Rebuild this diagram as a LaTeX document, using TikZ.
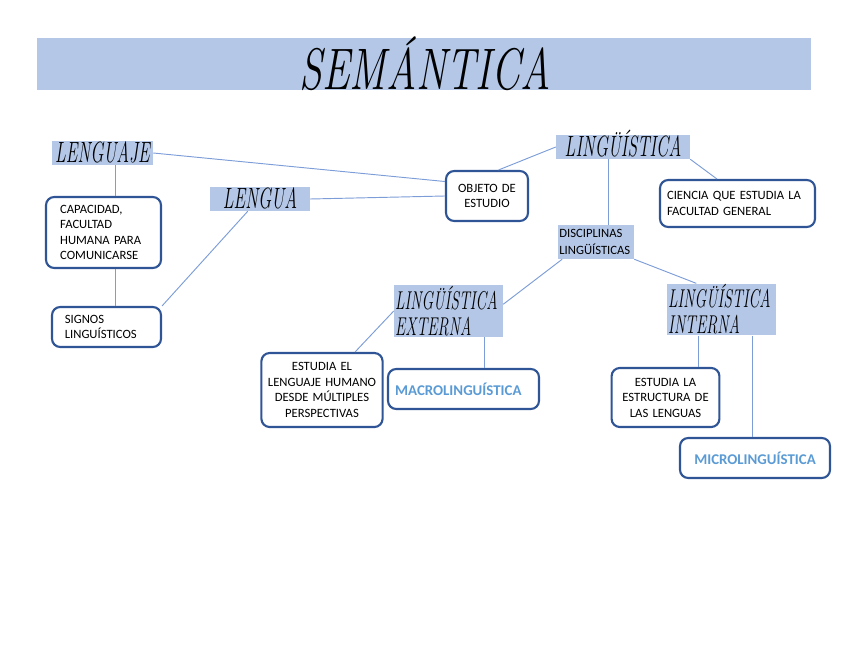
\documentclass[tikz,border=0pt]{standalone}
\usepackage{fontspec}
\setsansfont{Carlito}
\usepackage{tikz}
\usetikzlibrary{positioning}
\definecolor{bandazul}{HTML}{B4C7E7}
\definecolor{bordeazul}{HTML}{2F5597}
\definecolor{lineaazul}{HTML}{7C9DD8}
\definecolor{textoazul}{HTML}{5B9BD5}
\newcommand{\guion}[1]{\scalebox{0.6}[1]{#1}}
\tikzset{
	banda/.style={fill=bandazul, inner sep=0pt, align=left, text height=16pt, text depth=0pt,
		font=\rmfamily\itshape\fontsize{25}{24}\selectfont},
	banda2/.style={fill=bandazul, inner sep=1pt, align=left,
		font=\rmfamily\itshape\fontsize{22}{22}\selectfont},
	caja/.style={draw=bordeazul, line width=1.8pt, rounded corners=7pt, fill=white,
		font=\sffamily\fontsize{10.8}{13.2}\selectfont},
	enlace/.style={draw=lineaazul, line width=0.8pt},
	macro/.style={caja, text=textoazul, font=\sffamily\bfseries\fontsize{12.7}{14}\selectfont}
}

\begin{document}
\begin{tikzpicture}[x=0.03cm, y=-0.03cm]
	\useasboundingbox (0,0) rectangle (848,655);
	% titulo
	\node[fill=bandazul, minimum width=23.22cm, minimum height=1.56cm, inner sep=0pt] (titulo) at (424,64) {};
	\node[inner sep=0pt] (tituloTexto) at (425,64)
		{\rmfamily\itshape\fontsize{50}{50}\selectfont\scalebox{0.71}[1]{SEMÁNTICA}};
	% bandas
	\node[banda, minimum width=3.03cm, minimum height=0.72cm] (lenguaje) at (102.5,153) {\guion{LENGUAJE}};
	\node[banda, minimum width=3.0cm, minimum height=0.72cm] (lengua) at (260,199) {\guion{LENGUA}};
	\node[banda, minimum width=4.02cm, minimum height=0.72cm] (linguistica) at (623,147) {\guion{LINGÜÍSTICA}};
	\node[fill=bandazul, minimum width=2.28cm, minimum height=1.02cm, text width=2.2cm, align=left,
		inner sep=1pt, font=\sffamily\fontsize{10.8}{14.5}\selectfont] (disciplinas) at (596,242)
		{DISCIPLINAS LINGÜÍSTICAS};
	\node[banda2, minimum width=3.27cm, minimum height=1.44cm, text width=3.2cm] (externa) at (448.5,311)
		{\guion{LINGÜÍSTICA}\\\guion{EXTERNA}};
	\node[banda2, minimum width=3.27cm, minimum height=1.47cm, text width=3.2cm] (interna) at (721.5,309.5)
		{\guion{LINGÜÍSTICA}\\\guion{INTERNA}};
	% cajas
	\node[caja, minimum width=3.45cm, minimum height=2.13cm, text width=2.6cm, align=left] (capacidad) at (103.5,232.5)
		{CAPACIDAD,\\FACULTAD\\HUMANA PARA\\COMUNICARSE};
	\node[caja, minimum width=3.27cm, minimum height=1.2cm, text width=2.5cm, align=left] (signos) at (106.5,327)
		{SIGNOS\\LINGUÍSTICOS};
	\node[caja, minimum width=2.46cm, minimum height=1.5cm, text width=2.2cm, align=center] (objeto) at (487,196)
		{OBJETO DE\\ESTUDIO};
	\node[caja, minimum width=4.65cm, minimum height=1.41cm, text width=4.23cm, align=left] (ciencia) at (737.5,203.5)
		{CIENCIA QUE ESTUDIA LA\\FACULTAD GENERAL};
	\node[caja, minimum width=3.6cm, minimum height=2.22cm, text width=3.4cm, align=center] (estudiaext) at (322,390)
		{ESTUDIA EL\\LENGUAJE HUMANO\\DESDE MÚLTIPLES\\PERSPECTIVAS};
	\node[macro, minimum width=4.53cm, minimum height=1.2cm, text width=4.1cm, align=left] (macroling) at (463.5,389)
		{MACROLINGUÍSTICA};
	\node[caja, minimum width=3.21cm, minimum height=1.77cm, text width=3.0cm, align=center] (estudiaint) at (665.5,397.5)
		{ESTUDIA LA\\ESTRUCTURA DE\\LAS LENGUAS};
	\node[macro, minimum width=4.5cm, minimum height=1.2cm, text width=4.1cm, align=center] (microling) at (755,458)
		{MICROLINGUÍSTICA};
	% ejes verticales
	\coordinate (ejeA) at (115,0);
	\coordinate (ejeB) at (608,0);
	\coordinate (ejeC) at (484,0);
	\coordinate (ejeD) at (698,0);
	\coordinate (ejeE) at (752,0);
	% enlaces
	\draw[enlace] (lenguaje.south -| ejeA) -- (capacidad.north -| ejeA);
	\draw[enlace] (capacidad.south -| ejeA) -- (signos.north -| ejeA);
	\draw[enlace] (lenguaje.east) -- (objeto.161);
	\draw[enlace] (lengua.east) -- (objeto.west);
	\draw[enlace] (lengua.225) -- (signos.north east);
	\draw[enlace] (objeto.66) -- (linguistica.west);
	\draw[enlace] (linguistica.south east) -- (ciencia.130);
	\draw[enlace] (linguistica.south -| ejeB) -- (disciplinas.north -| ejeB);
	\draw[enlace] (disciplinas.207) -- (externa.7);
	\draw[enlace] (disciplinas.south east) -- (interna.134);
	\draw[enlace] (externa.west) -- (estudiaext.49);
	\draw[enlace] (externa.south -| ejeC) -- (macroling.north -| ejeC);
	\draw[enlace] (interna.south -| ejeD) -- (estudiaint.north -| ejeD);
	\draw[enlace] (interna.south -| ejeE) -- (microling.north -| ejeE);
\end{tikzpicture}
\end{document}
